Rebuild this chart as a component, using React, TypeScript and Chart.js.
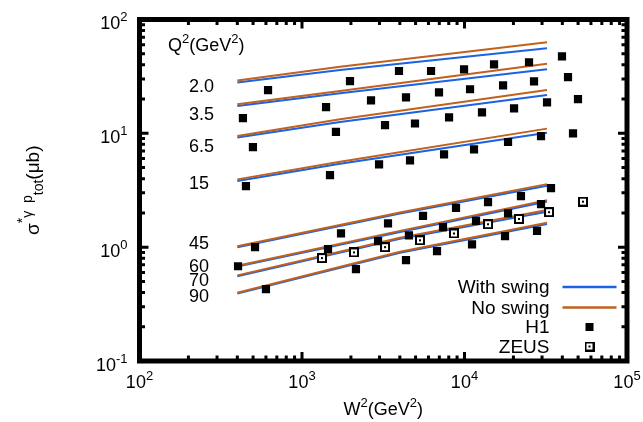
import { useEffect, useRef } from "react";
import { Chart, registerables } from "chart.js";

Chart.register(...registerables);

const Q2_LABELS = ["2.0", "3.5", "6.5", "15", "45", "60", "70", "90"];

// Model curves as [W² (GeV²), σ (μb)] pairs
const NO_SWING_2_0 = [[400, 29.1], [1714, 38.5], [32200, 63.0]];
const NO_SWING_3_5 = [[400, 18.0], [1714, 23.5], [32200, 40.9]];
const NO_SWING_6_5 = [[400, 9.47], [1714, 13.3], [32200, 24.0]];
const NO_SWING_15 = [[400, 3.94], [1714, 5.63], [32200, 11.0]];
const NO_SWING_45 = [[400, 1.02], [4010, 2.02], [32200, 3.58]];
const NO_SWING_60 = [[400, 0.686], [4010, 1.39], [32200, 2.59]];
const NO_SWING_70 = [[400, 0.565], [4010, 1.21], [32200, 2.12]];
const NO_SWING_90 = [[400, 0.397], [4010, 0.911], [32200, 1.64]];

const WITH_SWING_2_0 = [[400, 27.9], [1714, 36.0], [32200, 55.8]];
const WITH_SWING_3_5 = [[400, 17.4], [1714, 22.5], [32200, 36.5]];
const WITH_SWING_6_5 = [[400, 9.19], [1714, 12.6], [32200, 21.7]];
const WITH_SWING_15 = [[400, 3.81], [1714, 5.41], [32200, 10.1]];
const WITH_SWING_45 = [[400, 0.996], [4010, 1.98], [32200, 3.46]];
const WITH_SWING_60 = [[400, 0.675], [4010, 1.36], [32200, 2.52]];
const WITH_SWING_70 = [[400, 0.555], [4010, 1.185], [32200, 2.05]];
const WITH_SWING_90 = [[400, 0.391], [4010, 0.893], [32200, 1.6]];

// H1 measurements per Q² bin
const H1_2_0 = [[618, 24.0], [1974, 28.8], [3953, 35.3], [6225, 35.3], [9934, 36.5], [15197, 40.4], [24950, 42.1], [39800, 47.5]];
const H1_3_5 = [[433, 13.6], [1406, 17.0], [2659, 19.5], [4365, 20.7], [6967, 22.9], [10816, 24.4], [17272, 26.4], [26782, 28.6], [43350, 31.2]];
const H1_6_5 = [[499, 7.58], [1618, 10.3], [3243, 11.8], [4958, 12.2], [8035, 13.8], [12815, 15.3], [20182, 16.6], [32200, 18.7], [49930, 20.0]];
const H1_15 = [[452, 3.44], [1487, 4.3], [2980, 5.34], [4621, 5.79], [7484, 6.54], [11444, 7.23], [18533, 8.39], [29573, 9.47], [46530, 10.0]];
const H1_45 = [[514, 1.0], [1738, 1.32], [3383, 1.62], [5555, 1.88], [8869, 2.21], [13955, 2.49], [22257, 2.81], [34070, 3.3]];
const H1_60 = [[404, 0.68], [1446, 0.961], [2938, 1.13], [4551, 1.27], [7374, 1.5], [11771, 1.7], [18533, 1.98], [29573, 2.39]];
const H1_90 = [[600, 0.428], [2148, 0.642], [4365, 0.77], [6774, 0.924], [11126, 1.06], [17756, 1.25], [27940, 1.39]];

// ZEUS measurements
const ZEUS = [[1327, 0.802], [2089, 0.9], [3243, 1.0], [5321, 1.15], [8616, 1.32], [13955, 1.59], [21640, 1.77], [33140, 2.03], [53600, 2.51]];

const X_TICK_EXPONENTS = ["2", "3", "4", "5"];
const Y_TICK_EXPONENTS = ["-1", "0", "1", "2"];

const BLUE = "#1b63e4";
const ORANGE = "#c0621e";
const FONT = "Liberation Sans, Arial, Helvetica, sans-serif";

const toPoints = (arr: number[][]) => arr.map(([x, y]) => ({ x, y }));

function makeZeusMarker(): HTMLCanvasElement {
  const c = document.createElement("canvas");
  c.width = 10;
  c.height = 10;
  const g = c.getContext("2d")!;
  g.fillStyle = "#000";
  g.fillRect(0, 0, 10, 10);
  g.fillStyle = "#fff";
  g.fillRect(2, 2, 6, 6);
  g.fillStyle = "#000";
  g.fillRect(4, 4, 2, 2);
  return c;
}

// Draws a run of text pieces; each piece may be raised (superscript) or lowered (subscript)
type Piece = { t: string; size: number; dy?: number };
function runWidth(ctx: CanvasRenderingContext2D, pieces: Piece[]) {
  let w = 0;
  for (const p of pieces) {
    ctx.font = `${p.size}px ${FONT}`;
    w += ctx.measureText(p.t).width;
  }
  return w;
}
function drawRun(ctx: CanvasRenderingContext2D, pieces: Piece[], x: number, y: number) {
  let cx = x;
  ctx.textAlign = "left";
  ctx.textBaseline = "alphabetic";
  for (const p of pieces) {
    ctx.font = `${p.size}px ${FONT}`;
    ctx.fillText(p.t, cx, y + (p.dy || 0));
    cx += ctx.measureText(p.t).width;
  }
}

export default function App() {
  const ref = useRef<HTMLCanvasElement | null>(null);

  useEffect(() => {
    if (!ref.current) return;
    const zeusMarker = makeZeusMarker();

    const noSwing = [NO_SWING_2_0, NO_SWING_3_5, NO_SWING_6_5, NO_SWING_15, NO_SWING_45, NO_SWING_60, NO_SWING_70, NO_SWING_90];
    const withSwing = [WITH_SWING_2_0, WITH_SWING_3_5, WITH_SWING_6_5, WITH_SWING_15, WITH_SWING_45, WITH_SWING_60, WITH_SWING_70, WITH_SWING_90];
    const h1 = [H1_2_0, H1_3_5, H1_6_5, H1_15, H1_45, H1_60, H1_90].flat();

    const lineDs = (arr: number[][], color: string, label: string, order: number) => ({
      label,
      data: toPoints(arr),
      showLine: true,
      borderColor: color,
      backgroundColor: color,
      borderWidth: 2,
      pointRadius: 0,
      tension: 0,
      order,
    });

    const datasets: any[] = [
      {
        label: "H1",
        data: toPoints(h1),
        pointStyle: "rect",
        pointRadius: 5.8,
        pointBorderWidth: 0,
        backgroundColor: "#000",
        borderColor: "#000",
        showLine: false,
        order: 0,
      },
      {
        label: "ZEUS",
        data: toPoints(ZEUS),
        pointStyle: zeusMarker,
        pointRadius: 5,
        showLine: false,
        order: 0,
      },
      ...noSwing.map((c, i) => lineDs(c, ORANGE, `No swing ${Q2_LABELS[i]}`, 1)),
      ...withSwing.map((c, i) => lineDs(c, BLUE, `With swing ${Q2_LABELS[i]}`, 2)),
    ];

    const decorations = {
      id: "decorations",
      afterDraw(chart: any) {
        const { ctx, chartArea: a, scales } = chart;
        const xs = scales.x;
        const ys = scales.y;
        ctx.save();
        ctx.fillStyle = "#000";
        ctx.strokeStyle = "#000";

        // frame
        ctx.lineWidth = 5;
        ctx.strokeRect(a.left, a.top, a.right - a.left, a.bottom - a.top);

        // inward ticks on all four sides
        ctx.lineWidth = 3;
        ctx.beginPath();
        for (let e = 2; e < 5; e++) {
          for (let m = 1; m <= 9; m++) {
            const px = xs.getPixelForValue(m * Math.pow(10, e));
            const len = m === 1 ? 9 : 5.5;
            if (m === 1 && e === 2) continue;
            ctx.moveTo(px, a.bottom);
            ctx.lineTo(px, a.bottom - len);
            ctx.moveTo(px, a.top);
            ctx.lineTo(px, a.top + len);
          }
        }
        for (let e = -1; e < 2; e++) {
          for (let m = 1; m <= 9; m++) {
            const py = ys.getPixelForValue(m * Math.pow(10, e));
            const len = m === 1 ? 9 : 5.5;
            if (m === 1 && e === -1) continue;
            ctx.moveTo(a.left, py);
            ctx.lineTo(a.left + len, py);
            ctx.moveTo(a.right, py);
            ctx.lineTo(a.right - len, py);
          }
        }
        ctx.stroke();

        // x tick labels
        X_TICK_EXPONENTS.forEach((ex) => {
          const px = xs.getPixelForValue(Math.pow(10, Number(ex)));
          const pieces = [{ t: "10", size: 18 }, { t: ex, size: 13, dy: -8 }];
          const w = runWidth(ctx, pieces);
          drawRun(ctx, pieces, px - w / 2, a.bottom + 27);
        });

        // y tick labels
        Y_TICK_EXPONENTS.forEach((ex) => {
          const py = ys.getPixelForValue(Math.pow(10, Number(ex)));
          const pieces = [{ t: "10", size: 18 }, { t: ex, size: 13, dy: -8 }];
          const w = runWidth(ctx, pieces);
          drawRun(ctx, pieces, a.left - 12 - w, py + 9.5);
        });

        // x axis title
        {
          const pieces = [
            { t: "W", size: 18 },
            { t: "2", size: 13, dy: -8 },
            { t: "(GeV", size: 18 },
            { t: "2", size: 13, dy: -8 },
            { t: ")", size: 18 },
          ];
          const w = runWidth(ctx, pieces);
          drawRun(ctx, pieces, (a.left + a.right) / 2 - w / 2, 415);
        }

        // y axis title (rotated)
        {
          ctx.save();
          ctx.translate(34, (a.top + a.bottom) / 2);
          ctx.rotate(-Math.PI / 2);
          const pieces = [
            { t: "σ", size: 19 },
            { t: "*", size: 14, dy: -12 },
            { t: "γ", size: 14, dy: -7 },
            { t: "  p", size: 14, dy: -7 },
            { t: "tot", size: 14, dy: 4 },
            { t: "(μb)", size: 19 },
          ];
          const w = runWidth(ctx, pieces);
          drawRun(ctx, pieces, -w / 2, 5);
          ctx.restore();
        }

        // Q² header and bin labels
        drawRun(
          ctx,
          [
            { t: "Q", size: 18 },
            { t: "2", size: 13, dy: -8 },
            { t: "(GeV", size: 18 },
            { t: "2", size: 13, dy: -8 },
            { t: ")", size: 18 },
          ],
          a.left + 28.5,
          a.top + 31
        );
        const binLabelOffsets = [65.5, 93.8, 125.5, 163.2, 223.2, 245.5, 259.8, 275.5];
        Q2_LABELS.forEach((lab, i) => {
          drawRun(ctx, [{ t: lab, size: 18 }], a.left + 49.5, a.top + binLabelOffsets[i] + 6.5);
        });

        // legend
        const lx = a.right - 77.5;
        const rows = [a.top + 267.5, a.top + 288, a.top + 307.5, a.top + 327];
        ctx.font = `19px ${FONT}`;
        ctx.textAlign = "right";
        ctx.textBaseline = "middle";
        ["With swing", "No swing", "H1", "ZEUS"].forEach((t, i) => ctx.fillText(t, lx, rows[i] + 1));
        ctx.lineWidth = 2.5;
        [BLUE, ORANGE].forEach((col, i) => {
          ctx.strokeStyle = col;
          ctx.beginPath();
          ctx.moveTo(a.right - 64.5, rows[i]);
          ctx.lineTo(a.right - 10.5, rows[i]);
          ctx.stroke();
        });
        ctx.fillStyle = "#000";
        ctx.fillRect(a.right - 41.5, rows[2] - 4, 8, 8);
        ctx.drawImage(zeusMarker, a.right - 42.5, rows[3] - 5);
        ctx.restore();
      },
    };

    const chart = new Chart(ref.current, {
      type: "scatter",
      data: { datasets },
      options: {
        animation: false,
        responsive: false,
        events: [],
        layout: { padding: { left: 139.5, top: 19.5, right: 16, bottom: 61 } },
        plugins: { legend: { display: false }, tooltip: { enabled: false } },
        scales: {
          x: { type: "logarithmic", min: 100, max: 100000, display: false },
          y: { type: "logarithmic", min: 0.1, max: 100, display: false },
        },
      },
      plugins: [decorations],
    });
    return () => chart.destroy();
  }, []);

  return (
    <div style={{ position: "fixed", left: 0, top: 0, width: 643, height: 422, background: "#fff" }}>
      <canvas ref={ref} width={643} height={422} style={{ display: "block" }} />
    </div>
  );
}
